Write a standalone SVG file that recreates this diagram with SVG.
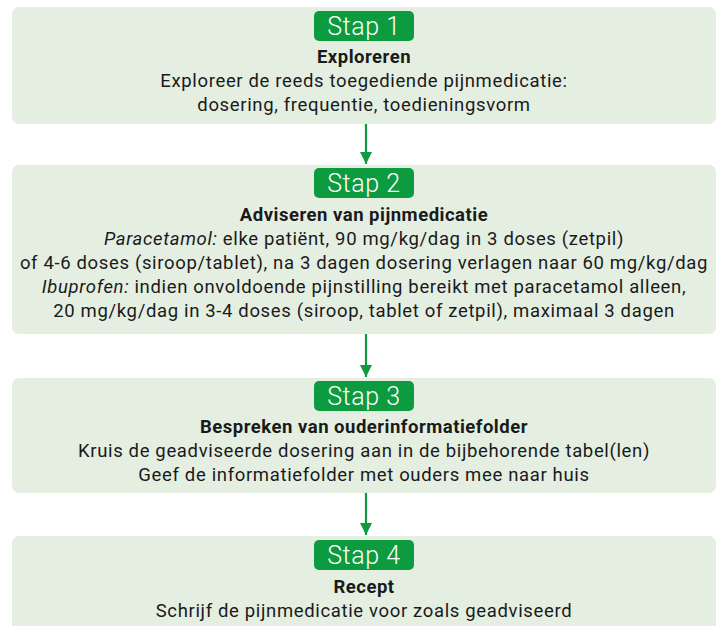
<svg xmlns="http://www.w3.org/2000/svg" width="725" height="626" viewBox="0 0 725 626">
<defs>
<style>
.box{fill:#e4efe2;}
.badge{fill:#0c9b3f;}
.bt{font-family:Roboto,"Liberation Sans",sans-serif;font-weight:300;font-size:25px;letter-spacing:0.6px;fill:#ffffff;text-anchor:middle;}
.tt{font-family:Roboto,"Liberation Sans",sans-serif;font-weight:700;font-size:18.5px;letter-spacing:0.5px;fill:#1a1a1a;text-anchor:middle;}
.tx{font-family:Roboto,"Liberation Sans",sans-serif;font-weight:400;font-size:18.5px;letter-spacing:0.65px;fill:#1a1a1a;text-anchor:middle;}
.conn{stroke:#0c9b3f;stroke-width:2.2;fill:none;}
</style>
<marker id="ah" viewBox="0 0 10 10" refX="10" refY="5" markerWidth="6" markerHeight="5.5" markerUnits="strokeWidth" orient="auto">
<path d="M0,0 L10,5 L0,10 z" fill="#0c9b3f"/>
</marker>
</defs>
<rect width="725" height="626" fill="#ffffff"/>
<g id="stap1">
<rect class="box" x="12" y="7" width="704" height="117" rx="7"/>
<rect class="badge" x="314" y="11" width="100" height="30" rx="5"/>
<text class="bt" x="364" y="35">Stap 1</text>
<text class="tt" x="364" y="63">Exploreren</text>
<text class="tx" x="364" y="87">Exploreer de reeds toegediende pijnmedicatie:</text>
<text class="tx" x="364" y="111">dosering, frequentie, toedieningsvorm</text>
</g>
<g id="stap2">
<rect class="box" x="12" y="165" width="704" height="169" rx="7"/>
<rect class="badge" x="314" y="168" width="100" height="30" rx="5"/>
<text class="bt" x="364" y="192">Stap 2</text>
<text class="tt" x="364" y="221">Adviseren van pijnmedicatie</text>
<text class="tx" x="364" y="245"><tspan font-style="italic">Paracetamol:</tspan> elke patiënt, 90 mg/kg/dag in 3 doses (zetpil)</text>
<text class="tx" x="364" y="269">of 4-6 doses (siroop/tablet), na 3 dagen dosering verlagen naar 60 mg/kg/dag</text>
<text class="tx" x="364" y="293"><tspan font-style="italic">Ibuprofen:</tspan> indien onvoldoende pijnstilling bereikt met paracetamol alleen,</text>
<text class="tx" x="364" y="317">20 mg/kg/dag in 3-4 doses (siroop, tablet of zetpil), maximaal 3 dagen</text>
</g>
<g id="stap3">
<rect class="box" x="12" y="378" width="704" height="115" rx="7"/>
<rect class="badge" x="314" y="381" width="100" height="30" rx="5"/>
<text class="bt" x="364" y="405">Stap 3</text>
<text class="tt" x="364" y="433">Bespreken van ouderinformatiefolder</text>
<text class="tx" x="364" y="457">Kruis de geadviseerde dosering aan in de bijbehorende tabel(len)</text>
<text class="tx" x="364" y="481">Geef de informatiefolder met ouders mee naar huis</text>
</g>
<g id="stap4">
<rect class="box" x="12" y="536" width="704" height="110" rx="7"/>
<rect class="badge" x="314" y="540" width="100" height="30" rx="5"/>
<text class="bt" x="364" y="564">Stap 4</text>
<text class="tt" x="364" y="593">Recept</text>
<text class="tx" x="364" y="617">Schrijf de pijnmedicatie voor zoals geadviseerd</text>
</g>
<g id="connectors">
<line class="conn" x1="366" y1="124" x2="366" y2="164" marker-end="url(#ah)"/>
<line class="conn" x1="366" y1="334" x2="366" y2="377" marker-end="url(#ah)"/>
<line class="conn" x1="366" y1="493" x2="366" y2="535" marker-end="url(#ah)"/>
</g>
</svg>
